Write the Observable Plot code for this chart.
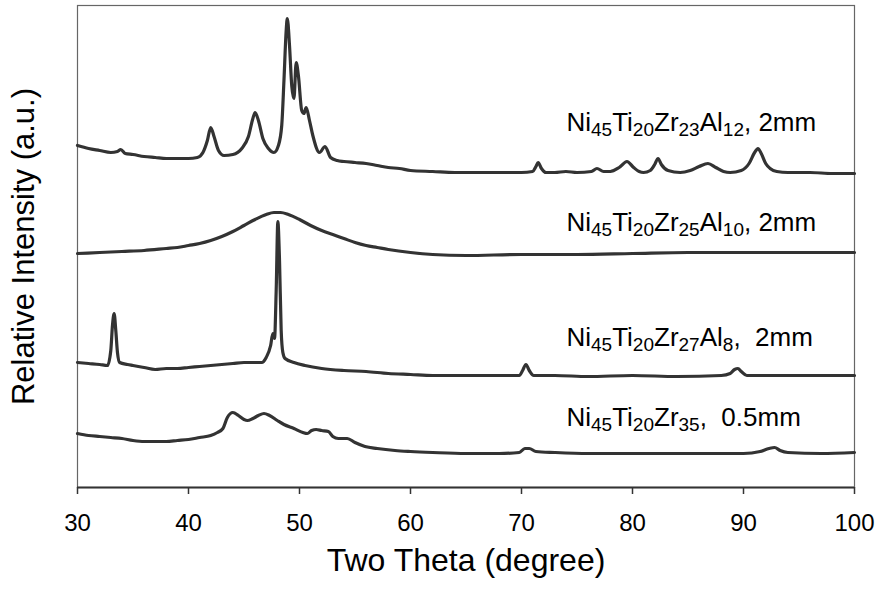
<!DOCTYPE html>
<html>
<head>
<meta charset="utf-8">
<script src="https://cdn.jsdelivr.net/npm/d3@7"></script>
<script src="https://cdn.jsdelivr.net/npm/@observablehq/plot@0.6"></script>
<style>
  html, body { margin: 0; padding: 0; background: #fff; }
  #chart { width: 882px; height: 592px; }
</style>
</head>
<body>
<div id="chart"></div>
<script>
// ---- Data (two theta in degrees, relative intensity in arbitrary units) ----
const al12_2theta = [30,31,32,33,33.6,33.9,34.3,35,36,37,38,39,40,40.8,41.3,41.7,42.0,42.3,42.7,43.2,44.0,44.8,45.4,45.8,46.0,46.3,46.7,47.2,47.7,48.1,48.4,48.6,48.8,48.9,49.1,49.3,49.5,49.7,49.9,50.2,50.4,50.6,50.9,51.2,51.8,52.3,52.8,53.4,54,55,56,57,58,59,60,62,64,66,68,70,71.0,71.3,71.5,71.8,72.2,73,74,75,76.3,76.8,77.4,78,78.8,79.5,80.1,80.6,81.0,81.6,82.0,82.3,82.6,83.2,84.3,85.2,86.0,86.8,87.5,88.2,88.8,89.8,90.5,91.0,91.3,91.6,92.0,92.4,93,94,96,98,100];
const al12_int    = [342,339,337,335,336,338,334,333,331,330,329,329,329,330,335,347,360,351,337,332,333,339,351,369,375,367,349,339,335,342,362,407,457,469,442,402,389,425,412,377,374,380,367,352,335,341,330,327,326,325,324,322,320,319,317,316,315,315,315,315,316,321,325,319,315,315,316,315,316,319,316,316,320,326,320,316,315,317,323,329,323,317,315,317,321,324,320,316,315,317,324,335,339,334,324,319,316,315,315,314,314];

const al10_2theta = [30,32,34,36,38,39,40,41,42,43,44,45,46,47,47.7,48.3,49,50,51,52,53,54,55,56,57,58,60,62,65,70,75,80,85,90,95,100];
const al10_int    = [234,235,236,237,239,240,242,244,247,251,256,262,268,273,275,275,273,268,262,257,253,249,245,242,240,238,235,233,232,233,233,234,235,235,235,235];

const al8_2theta = [30,31,32,32.7,33.0,33.15,33.3,33.45,33.6,33.8,34.5,35,36,37,38,39,40,41,42,43,44,45,46,46.6,47.0,47.4,47.6,47.75,47.9,48.05,48.2,48.35,48.5,48.7,49.5,50.5,52,54,56,58,60,62,65,68,69.8,70.1,70.4,70.7,71.1,73,76,80,84,88,88.8,89.2,89.5,89.8,90.3,92,95,100];
const al8_int    = [125,124,123,122,137,162,174,157,135,125,123,122,120,118,119,119,120,121,122,123,124,125,125,125,130,142,154,149,197,266,227,157,135,129,125,122,119,117,116,114,113,112,112,112,112,117,123,117,112,112,111,112,111,112,114,118,119,116,112,112,112,112];

const zr35_2theta = [30,31,32,33,34,35,36,37,38,39,40,41,42,42.6,43.1,43.5,44.0,44.5,45.0,45.3,45.8,46.3,46.8,47.3,48.0,48.6,49.5,50.3,50.7,51.1,51.5,52.0,52.6,53.0,53.5,54.3,55.0,55.9,57.0,58.6,60,62,65,68,69.8,70.3,70.7,71.3,73,76,80,85,88,90,91.5,92.3,92.8,93.3,94,97,100];
const zr35_int    = [54,52,51,50,49,47,46,46,46,47,48,50,52,55,59,70,75,72,68,67,69,72,74,72,67,63,59,55,54,57,58,57,56,51,49,49,45,41,39,37,36,35,34,34,35,39,39,36,35,34,34,34,34,34,36,39,40,37,35,34,35];

const xTicks = [30, 40, 50, 60, 70, 80, 90, 100];

const seriesNames  = ["Al12", "Al10", "Al8", "Zr35"];
const labelTexts   = ["Ni_45Ti_20Zr_23Al_12, 2mm", "Ni_45Ti_20Zr_25Al_10, 2mm", "Ni_45Ti_20Zr_27Al_8,  2mm", "Ni_45Ti_20Zr_35,  0.5mm"];
const labelX       = [74.05, 74.05, 74.05, 74.05];
const labelY       = [357, 257, 142, 62];

// ---- Build tables ----
const pairs = [[al12_2theta, al12_int], [al10_2theta, al10_int], [al8_2theta, al8_int], [zr35_2theta, zr35_int]];
const rows = [];
pairs.forEach(([xs, ys], k) => xs.forEach((x, i) => rows.push({series: seriesNames[k], x, y: ys[i]})));
const labels = labelTexts.map((t, i) => ({t, x: labelX[i], y: labelY[i]}));

const FONT = "'Liberation Sans', Arial, Helvetica, sans-serif";
const INK = "#333";

const chart = Plot.plot({
  width: 882,
  height: 592,
  marginLeft: 77,
  marginRight: 28,
  marginTop: 5,
  marginBottom: 105,
  style: {fontFamily: FONT, fontSize: "24px", color: "#000", background: "#fff"},
  x: {domain: [30, 100]},
  y: {domain: [0, 482], axis: null},
  marks: [
    Plot.frame({stroke: "#666", strokeWidth: 1.2}),
    Plot.line(rows, {x: "x", y: "y", z: "series", curve: "monotone-x", stroke: INK, strokeWidth: 3.2, strokeLinejoin: "round", strokeLinecap: "round"}),
    Plot.ruleY([0], {stroke: "#333", strokeWidth: 2}),
    Plot.axisX({ticks: xTicks, tickSize: 7, tickPadding: 19, tickFormat: d => String(d), label: null, stroke: "#333", strokeWidth: 1.5, fontSize: 24}),
    Plot.text(labels, {x: "x", y: "y", text: "t", textAnchor: "start", lineAnchor: "bottom", fontSize: 26, fill: "#000", className: "xrd-label"}),
    Plot.text(["Two Theta (degree)"], {frameAnchor: "bottom", textAnchor: "middle", dy: 83, fontSize: 32, fill: "#000"}),
    Plot.text(["Relative Intensity (a.u.)"], {frameAnchor: "left", textAnchor: "middle", dx: -53, rotate: -90, fontSize: 31, fill: "#000"})
  ]
});

// Render subscripts in the curve labels as real text with tspans
d3.select(chart).selectAll("g.xrd-label text, .xrd-label text").each(function () {
  const raw = this.textContent;
  const parts = raw.split(/_(\d+)/);
  const sel = d3.select(this);
  sel.text(null).style("white-space", "pre");
  let lowered = false;
  parts.forEach((p, i) => {
    if (p === "") return;
    const sub = i % 2 === 1;
    const ts = sel.append("tspan").text(p);
    if (sub) {
      ts.attr("font-size", 19);
      if (!lowered) { ts.attr("dy", 5); lowered = true; }
    } else if (lowered) {
      ts.attr("dy", -5); lowered = false;
    }
  });
});

document.getElementById("chart").appendChild(chart);
</script>
</body>
</html>
